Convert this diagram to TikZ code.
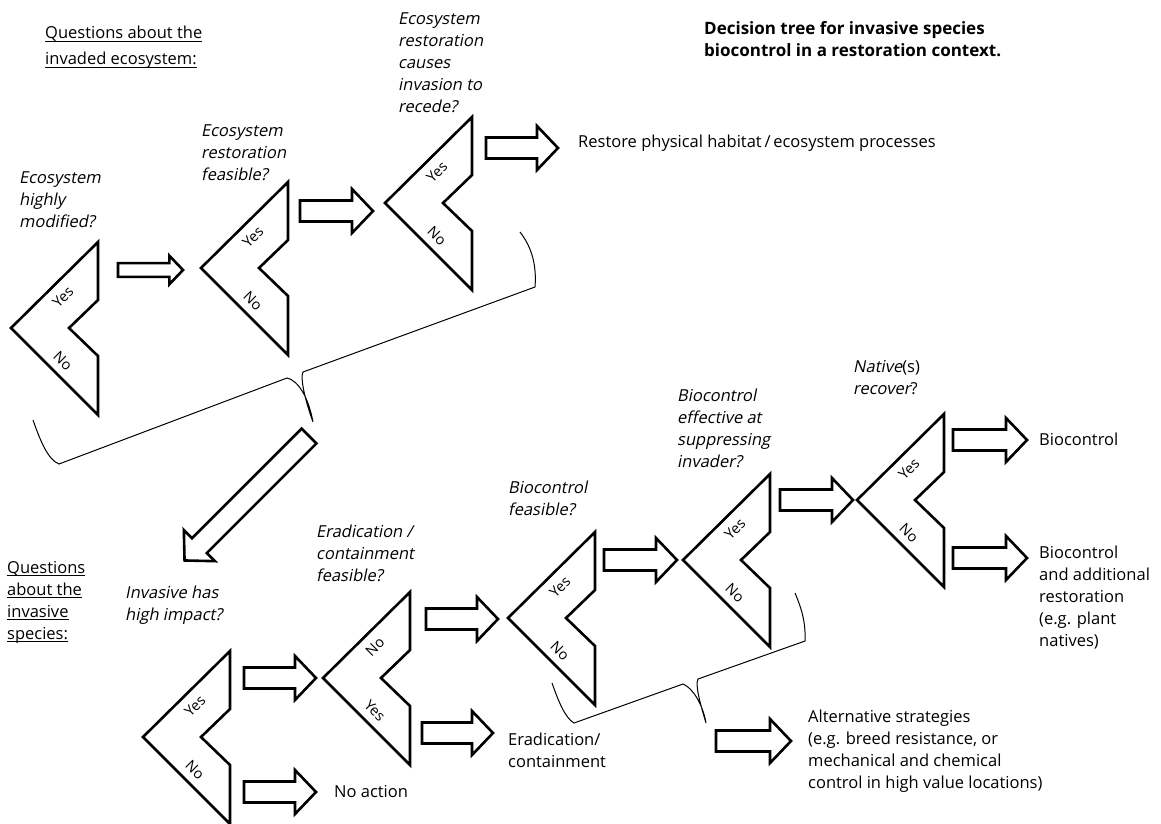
\documentclass[tikz,border=0pt]{standalone}
\usepackage{fontspec}
\setmainfont{Open Sans}
\newfontfamily\oblique[FakeSlant=0.2]{Open Sans}
\usetikzlibrary{calc}

% underline at a fixed depth
\newcommand*{\ul}[1]{\setbox0\hbox{#1}\rlap{\rule[-2.6pt]{\wd0}{0.6pt}}\box0}

% chevron: name, tip, upper arm label, lower arm label
\newcommand*{\chevron}[4]{%
  \draw[chev] (#2) coordinate (#1) -- ++(87,-86) -- ++(0,58) -- ++(-29,28)
    -- ++(29,28) -- ++(0,59) -- cycle;
  \node[armlbl, rotate=45] (#1-up) at ($(#1)+(52,-31)$) {#3};
  \node[armlbl, rotate=-45] (#1-dn) at ($(#1)+(52,33)$) {#4};
}

% hollow block arrow: options, tail, length, angle
\newcommand*{\blockarrow}[4][]{%
  \draw[blk, shift={(#2)}, rotate=#4, #1] (0,-10.5) -- (#3-21,-10.5) -- (#3-21,-22)
    -- (#3,0) -- (#3-21,22) -- (#3-21,10.5) -- (0,10.5) -- cycle;
}

\tikzset{
  chev/.style={draw, line width=2.6pt, line join=miter, fill=white},
  blk/.style={draw, line width=2.6pt, line join=miter, fill=white},
  brace/.style={draw, line width=1pt},
  armlbl/.style={inner sep=0pt, font=\fontsize{14.5}{16}\selectfont},
  qtext/.style={anchor=north west, inner sep=0pt, align=left, font=\fontsize{16.5}{22}\selectfont\oblique},
  ptext/.style={anchor=north west, inner sep=0pt, align=left, font=\fontsize{16.5}{22}\selectfont},
  ttext/.style={anchor=north west, inner sep=0pt, align=left, font=\fontsize{17}{22}\selectfont\bfseries},
}

\begin{document}
\begin{tikzpicture}[x=1pt, y=-1pt]
    \useasboundingbox (0,0) rectangle (1161,823);

    % headings
    \node[ptext] (qeco) at (45,26) {\ul{Questions about the}\\[4pt]\ul{invaded ecosystem:}};
    \node[ptext] (qinv) at (7,561) {\ul{Questions}\\\ul{about the}\\\ul{invasive}\\\ul{species:}};
    \node[ttext] (title) at (704,21) {Decision tree for invasive species\\biocontrol in a restoration context.};

    % questions
    \node[qtext] (qhigh) at (19,172) {Ecosystem\\highly\\modified?};
    \node[qtext] (qfeas) at (201,125) {Ecosystem\\restoration\\feasible?};
    \node[qtext] (qrecede) at (398,13) {Ecosystem\\restoration\\causes\\invasion to\\recede?};
    \node[qtext] (qimpact) at (125,586) {Invasive has\\high impact?};
    \node[qtext] (qerad) at (316,525) {Eradication /\\containment\\feasible?};
    \node[qtext] (qbio) at (508,481) {Biocontrol\\feasible?};
    \node[qtext] (qeff) at (677,389) {Biocontrol\\effective at\\suppressing\\invader?};
    \node[ptext] (qnat) at (853,360) {{\oblique Native}(s)\\{\oblique recover}?};

    % outcomes
    \node[ptext] (restore) at (578,135) {Restore physical habitat\,/\,ecosystem processes};
    \node[ptext] (bio) at (1039,433) {Biocontrol};
    \node[ptext] (bioadd) at (1039,546) {Biocontrol\\and additional\\restoration\\(e.g. plant\\natives)};
    \node[ptext] (erad) at (508,733) {Eradication/\\containment};
    \node[ptext] (noact) at (334,785) {No action};
    \node[ptext] (alt) at (808,710) {Alternative strategies\\(e.g. breed resistance, or\\mechanical and chemical\\control in high value locations)};

    % decision chevrons
    \foreach \n/\tx/\ty/\a/\b in {c1/11/328/Yes/No, c2/201/268/Yes/No, c3/385/203/Yes/No,
        c4/143/737/Yes/No, c5/323/678/No/Yes, c6/508/618/Yes/No, c7/683/560/Yes/No, c8/857/500/Yes/No}
        \chevron{\n}{\tx,\ty}{\a}{\b};

    % block arrows
    \blockarrow[scale=0.65]{118,270}{100}{0}
    \foreach \tx/\ty/\len in {300/211/73, 486/148/72, 244/678/72, 244/792/72, 426/619/72,
        422/733/71, 604/560/73, 780/500/73, 953/440/74, 953/558/74, 716/741/75}
        \blockarrow{\tx,\ty}{\len}{0};
    \blockarrow{309,436}{176}{225}

    % braces
    \draw[brace] (33,420) .. controls (40,440) and (48,460) .. (59,464) -- (287,378)
        .. controls (297,380) and (308,395) .. (313,422)
        .. controls (305,400) and (300,378) .. (303,372) -- (535,287)
        .. controls (537,262) and (530,245) .. (520,232);
    \draw[brace] (552,683) .. controls (558,700) and (565,718) .. (574,723) -- (683,684)
        .. controls (693,688) and (703,705) .. (706,723)
        .. controls (700,703) and (695,685) .. (698,679) -- (805,641)
        .. controls (806,620) and (800,605) .. (795,593);
\end{tikzpicture}
\end{document}
